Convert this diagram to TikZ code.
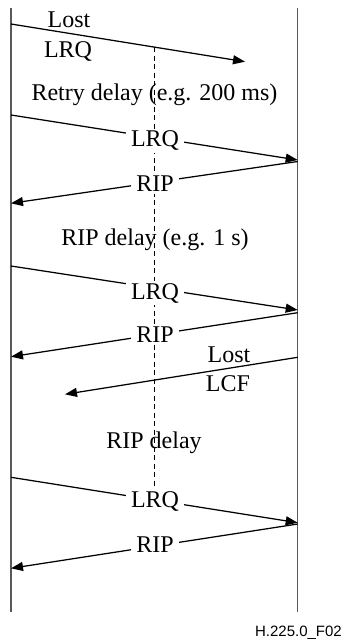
\documentclass[tikz,border=0pt]{standalone}
\usepackage{fontspec}
\setmainfont{Liberation Serif}
\newfontfamily\figsans{Liberation Sans}
\usetikzlibrary{arrows.meta}
\begin{document}
\begin{tikzpicture}[x=1pt,y=-1pt,
  lifeline/.style={draw=black!65, line width=1.4pt},
  msg/.style={draw=black, line width=1.25pt, -{Triangle[length=12pt,width=9pt]}},
  lbl/.style={font=\fontsize{24}{27}\selectfont, anchor=base, inner sep=0pt},
  masklbl/.style={lbl, fill=white, inner xsep=5pt, inner ysep=2pt},
  timer/.style={draw=black, line width=1pt, dash pattern=on 5pt off 3.5pt},
  figid/.style={font=\figsans\fontsize{15}{18}\selectfont, anchor=base east, inner sep=0pt}]
\useasboundingbox (0,0) rectangle (344,642);
% lifelines
\coordinate (Ltop) at (11,8);
\coordinate (Lbot) at (11,612);
\coordinate (Rtop) at (297.7,8);
\coordinate (Rbot) at (297.7,612);
\draw[lifeline] (Ltop) -- (Lbot);
\draw[lifeline] (Rtop) -- (Rbot);
% message end points
\coordinate (m1s) at (11,24);      \coordinate (m1e) at (245,61.7);
\coordinate (m2s) at (11,115);     \coordinate (m2e) at (297.7,160);
\coordinate (m3s) at (297.7,161.5);\coordinate (m3e) at (11,203.3);
\coordinate (m4s) at (11,266);     \coordinate (m4e) at (297.7,310);
\coordinate (m5s) at (297.7,312.7);\coordinate (m5e) at (11,356.7);
\coordinate (m6s) at (297.7,357.3);\coordinate (m6e) at (65,394.3);
\coordinate (m7s) at (11,477.3);   \coordinate (m7e) at (297.7,522.7);
\coordinate (m8s) at (297.7,524);  \coordinate (m8e) at (11,568.3);
% timer line
\coordinate (t1) at (154.3,47.2);
\coordinate (t2) at (154.3,500);
\draw[timer] (t1) -- (t2);
% messages
\draw[msg] (m1s) -- (m1e);
\draw[msg] (m2s) -- (m2e);
\draw[msg] (m3s) -- (m3e);
\draw[msg] (m4s) -- (m4e);
\draw[msg] (m5s) -- (m5e);
\draw[msg] (m6s) -- (m6e);
\draw[msg] (m7s) -- (m7e);
\draw[msg] (m8s) -- (m8e);
% labels
\node[lbl] (l1a) at (69,27.3) {Lost};
\node[lbl] (l1b) at (68,57.7) {LRQ};
\node[lbl] (d1) at (154.5,100.7) {Retry delay (e.g. 200 ms)};
\node[masklbl] (l2) at (155,146.7) {LRQ};
\node[masklbl] (l3) at (155,191.7) {RIP};
\node[lbl] (d2) at (155,245) {RIP delay (e.g. 1 s)};
\node[masklbl] (l4) at (155,299.3) {LRQ};
\node[masklbl] (l5) at (155,342.3) {RIP};
\node[lbl] (l6a) at (229,362.7) {Lost};
\node[lbl] (l6b) at (228,391.7) {LCF};
\node[lbl] (d3) at (154,448.3) {RIP delay};
\node[masklbl] (l7) at (155,507.3) {LRQ};
\node[masklbl] (l8) at (155,552.7) {RIP};
\node[figid] (fid) at (342,636) {H.225.0\_F02};
\end{tikzpicture}
\end{document}
